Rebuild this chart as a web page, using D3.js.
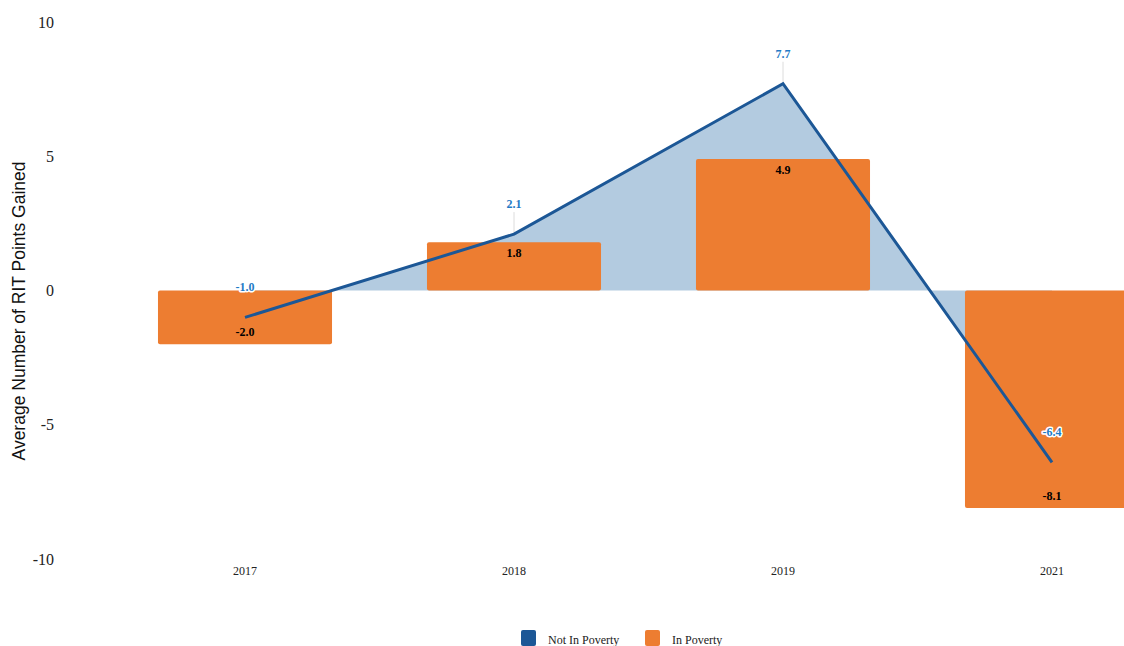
<!DOCTYPE html>
<html><head><meta charset="utf-8">
<script src="https://cdn.jsdelivr.net/npm/d3@7"></script>
<style>
html,body{margin:0;padding:0;background:#fff;overflow:hidden;}
svg{display:block;}
</style></head>
<body>
<svg id="chart" width="1124" height="646"></svg>
<script>
const categories = ["2017", "2018", "2019", "2021"];
const notInPoverty = [-1.0, 2.1, 7.7, -6.4];
const inPoverty = [-2.0, 1.8, 4.9, -8.1];
const yTicks = [10, 5, 0, -5, -10];
const seriesNames = ["Not In Poverty", "In Poverty"];
const yTitle = "Average Number of RIT Points Gained";

const W = 1124, H = 646;
const svg = d3.select("#chart");
const serif = "'Liberation Serif','DejaVu Serif',serif";
const sans = "'Liberation Sans',Arial,sans-serif";
const blue = "#1c5796", orange = "#ed7d31", areaFill = "#b3cbe0", labelBlue = "#1f7bc6";

const x = d3.scaleBand().domain(categories).range([110.5, 1186.5]).paddingInner(0.353).paddingOuter(0.1765);
const xc = d => x(d) + x.bandwidth() / 2;
const y = d3.scaleLinear().domain([-10, 10]).range([559, 22]);

const rows = categories.map((c, i) => ({c, a: notInPoverty[i], b: inPoverty[i]}));

// area between line and zero
const area = d3.area().x(d => xc(d.c)).y0(y(0)).y1(d => y(d.a));
svg.append("path").datum(rows).attr("d", area).attr("fill", areaFill);

// leader lines for line labels (behind bars)
svg.selectAll("line.lead").data(rows).enter().append("line")
  .attr("x1", d => xc(d.c)).attr("x2", d => xc(d.c))
  .attr("y1", d => y(d.a) - 22).attr("y2", d => y(d.a))
  .attr("stroke", "#dcdcdc").attr("stroke-width", 1);

// bars
svg.selectAll("rect.bar").data(rows).enter().append("rect")
  .attr("class", "bar")
  .attr("x", d => x(d.c))
  .attr("width", x.bandwidth())
  .attr("y", d => y(Math.max(0, d.b)))
  .attr("height", d => Math.abs(y(d.b) - y(0)))
  .attr("rx", 2).attr("fill", orange);

// line
const line = d3.line().x(d => xc(d.c)).y(d => y(d.a));
svg.append("path").datum(rows).attr("d", line).attr("fill", "none")
  .attr("stroke", blue).attr("stroke-width", 3).attr("stroke-linejoin", "miter");

// bar labels
svg.selectAll("text.blab").data(rows).enter().append("text")
  .attr("x", d => xc(d.c))
  .attr("y", d => d.b >= 0 ? y(d.b) + 15 : y(d.b) - 8)
  .attr("text-anchor", "middle")
  .attr("font-family", serif).attr("font-weight", "bold").attr("font-size", 12)
  .attr("fill", "#000")
  .text(d => d.b.toFixed(1));

// line labels
svg.selectAll("text.llab").data(rows).enter().append("text")
  .attr("x", d => xc(d.c))
  .attr("y", d => y(d.a) - 26)
  .attr("text-anchor", "middle")
  .attr("font-family", serif).attr("font-weight", "bold").attr("font-size", 12)
  .attr("fill", labelBlue)
  .attr("stroke", "#fff").attr("stroke-width", 3).attr("paint-order", "stroke")
  .attr("stroke-linejoin", "round")
  .text(d => d.a.toFixed(1));

// y axis
const yAxis = d3.axisLeft(y).tickValues(yTicks).tickSize(0).tickPadding(0).tickFormat(d => d);
const yg = svg.append("g").attr("transform", "translate(54,0)").call(yAxis);
yg.select(".domain").remove();
yg.selectAll("text").attr("font-family", serif).attr("font-size", 16).attr("fill", "#222");

svg.append("text")
  .attr("transform", `translate(25,311) rotate(-90)`)
  .attr("text-anchor", "middle")
  .attr("font-family", sans).attr("font-size", 17.5).attr("fill", "#111")
  .text(yTitle);

// x axis
const xAxis = d3.axisBottom(x).tickSize(0).tickPadding(0);
const xg = svg.append("g").attr("transform", "translate(0,566)").call(xAxis);
xg.select(".domain").remove();
xg.selectAll("text").attr("font-family", serif).attr("font-size", 12).attr("fill", "#222").attr("dy", "0.71em");

// legend
const legendData = [{n: seriesNames[0], c: blue, x: 521}, {n: seriesNames[1], c: orange, x: 645}];
const lg = svg.append("g");
lg.selectAll("rect").data(legendData).enter().append("rect")
  .attr("x", d => d.x).attr("y", 630).attr("width", 15).attr("height", 16).attr("rx", 2)
  .attr("fill", d => d.c);
lg.selectAll("text").data(legendData).enter().append("text")
  .attr("x", d => d.x + 27).attr("y", 644)
  .attr("font-family", serif).attr("font-size", 12).attr("fill", "#222")
  .text(d => d.n);
</script>
</body></html>
